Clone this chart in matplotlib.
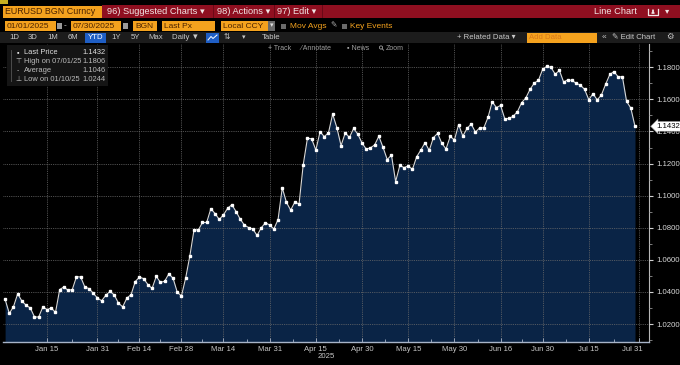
import matplotlib
matplotlib.use("Agg")
import matplotlib.pyplot as plt
import numpy as np
import pandas as pd
from matplotlib.patches import Rectangle, Circle
import matplotlib.transforms as mtransforms

# ---------------- data ----------------
dates = pd.bdate_range("2025-01-01", "2025-07-30")
jan = [1.0354, 1.0266, 1.0308, 1.0389, 1.0343, 1.0317, 1.0300, 1.0244, 1.0244, 1.0307,
       1.0290, 1.0300, 1.0272, 1.0415, 1.0431, 1.0410, 1.0415, 1.0495, 1.0493, 1.0430,
       1.0421, 1.0391, 1.0362]
feb = [1.0345, 1.0380, 1.0403, 1.0381, 1.0330, 1.0307, 1.0362, 1.0383, 1.0465, 1.0492,
       1.0483, 1.0446, 1.0422, 1.0497, 1.0459, 1.0467, 1.0513, 1.0485, 1.0398, 1.0375]
mar = [1.0487, 1.0625, 1.0789, 1.0785, 1.0833, 1.0833, 1.0919, 1.0888, 1.0852, 1.0880,
       1.0922, 1.0943, 1.0901, 1.0853, 1.0816, 1.0801, 1.0792, 1.0752, 1.0800, 1.0831,
       1.0817]
apr = [1.0792, 1.0851, 1.1049, 1.0958, 1.0910, 1.0960, 1.0948, 1.1194, 1.1358, 1.1354,
       1.1284, 1.1398, 1.1368, 1.1391, 1.1508, 1.1424, 1.1312, 1.1391, 1.1363, 1.1419,
       1.1383, 1.1328]
may = [1.1290, 1.1298, 1.1316, 1.1370, 1.1301, 1.1225, 1.1253, 1.1088, 1.1188, 1.1175,
       1.1185, 1.1164, 1.1242, 1.1284, 1.1330, 1.1282, 1.1362, 1.1388, 1.1326, 1.1291,
       1.1369, 1.1347]
jun = [1.1443, 1.1371, 1.1419, 1.1446, 1.1396, 1.1422, 1.1423, 1.1488, 1.1585, 1.1549,
       1.1562, 1.1478, 1.1481, 1.1495, 1.1523, 1.1579, 1.1609, 1.1662, 1.1701, 1.1718,
       1.1787]
jul = [1.1806, 1.1799, 1.1757, 1.1780, 1.1708, 1.1722, 1.1718, 1.1700, 1.1689, 1.1662,
       1.1598, 1.1635, 1.1597, 1.1627, 1.1694, 1.1755, 1.1773, 1.1740, 1.1741, 1.1587,
       1.1546, 1.1432]
prices = jan + feb + mar + apr + may + jun + jul

tick_dates = ["2025-01-15", "2025-01-31", "2025-02-14", "2025-02-28", "2025-03-14",
              "2025-03-31", "2025-04-15", "2025-04-30", "2025-05-15", "2025-05-30",
              "2025-06-16", "2025-06-30", "2025-07-15", "2025-07-31"]
tick_labels = ["Jan 15", "Jan 31", "Feb 14", "Feb 28", "Mar 14", "Mar 31", "Apr 15",
               "Apr 30", "May 15", "May 30", "Jun 16", "Jun 30", "Jul 15", "Jul 31"]
y_ticks = [1.02, 1.04, 1.06, 1.08, 1.10, 1.12, 1.14, 1.16, 1.18]

legend_labels = ["Last Price", "High on 07/01/25", "Average", "Low on 01/10/25"]
legend_values = ["1.1432", "1.1806", "1.1046", "1.0244"]
last_price = 1.1432

# ---------------- style ----------------
FONT = ["Liberation Sans", "DejaVu Sans"]
plt.rcParams["font.family"] = FONT

W, H = 680, 365
fig = plt.figure(figsize=(6.8, 3.65), dpi=100, facecolor="black")

# main axes in pixel layout
L, R, T, B = 3, 649, 44, 342
ax = fig.add_axes([L / W, (H - B) / H, (R - L) / W, (B - T) / H])
ax.set_facecolor("black")

x = np.arange(len(prices))
ymin, ymax = 1.0088, 1.1945
ax.fill_between(x, prices, ymin, color="#0a2446", zorder=1, linewidth=0)
ax.plot(x, prices, color="#d8d8d8", lw=0.8, zorder=4)
ax.plot(x, prices, ls="none", marker="s", ms=1.8, mfc="white", mec="white", zorder=5)

all_days = pd.bdate_range("2025-01-01", "2025-07-31")
tick_pos = [all_days.get_loc(pd.Timestamp(d)) for d in tick_dates]
ax.set_xlim(-0.5, (R - 5) / 4.2)
ax.set_ylim(ymin, ymax)

ax.set_xticks(tick_pos)
ax.set_xticklabels(tick_labels)
minor_x = [(a + b) / 2 for a, b in zip(tick_pos[:-1], tick_pos[1:])]
ax.set_xticks(minor_x, minor=True)
ax.tick_params(axis="x", which="major", direction="in", length=3, width=0.6,
               color="#a8b4c8", labelsize=5.6, labelcolor="#c8c8c8", pad=3)
ax.tick_params(axis="x", which="minor", direction="in", length=2, width=0.6,
               color="#a8b4c8")
lbls = ax.get_xticklabels()
off = mtransforms.ScaledTranslation(-7 / 100, 0, fig.dpi_scale_trans)
lbls[-1].set_transform(lbls[-1].get_transform() + off)

ax.yaxis.tick_right()
ax.set_yticks(y_ticks)
ax.set_yticklabels([f"{v:.4f}" for v in y_ticks])
ax.set_yticks(np.arange(1.01, 1.195, 0.02), minor=True)
ax.tick_params(axis="y", which="major", direction="out", length=3, width=0.8,
               color="#d0d0d0", labelsize=5.6, labelcolor="#d8d8d8", pad=2)
ax.tick_params(axis="y", which="minor", direction="out", length=2, width=0.6,
               color="#909090")

ax.grid(True, which="major", color="#6a6a6a", ls=(0, (1, 1.2)), lw=0.6)
ax.set_axisbelow(False)
for gl in ax.get_xgridlines() + ax.get_ygridlines():
    gl.set_zorder(2)

for s in ["left", "top"]:
    ax.spines[s].set_visible(False)
ax.spines["right"].set_color("#b8b8b8")
ax.spines["right"].set_linewidth(0.8)
ax.spines["bottom"].set_color("#a8b4c8")
ax.spines["bottom"].set_linewidth(1.0)

# last price tag
ax.annotate(f"{last_price:.4f}", xy=(1.0, last_price),
            xycoords=ax.get_yaxis_transform(),
            xytext=(5, 0), textcoords="offset points", ha="left", va="center",
            fontsize=5.6, color="black", annotation_clip=False,
            bbox=dict(boxstyle="larrow,pad=0.18", fc="white", ec="#888888", lw=0.4))

# ---------------- overlay (pixel coordinates) ----------------
ov = fig.add_axes([0, 0, 1, 1])
ov.set_xlim(0, W)
ov.set_ylim(H, 0)
ov.axis("off")
ov.patch.set_alpha(0)
ov.set_zorder(10)


def rect(x0, y0, x1, y1, color, **kw):
    ov.add_patch(Rectangle((x0, y0), x1 - x0, y1 - y0, facecolor=color,
                           edgecolor=kw.pop("ec", "none"), lw=kw.pop("lw", 0), **kw))


def txt(xp, yp, s, size, color, ha="left", va="center", **kw):
    ov.text(xp, yp, s, fontsize=size, color=color, ha=ha, va=va, family=FONT, **kw)


ORANGE = "#f4a21e"
RED = "#8f0f20"
OTXT = "#4a2200"
HDR = "#f2e6e6"

# "2025" under the x axis
txt(326, 357, "2025", 5.6, "#c8c8c8", ha="center")

# Row 0 (cut-off strip)
rect(0, 0, W, 5, "black")
rect(0, 0, 8, 4, "#c8b020")

# Row 1
rect(3, 6, 102, 18, ORANGE)
txt(5, 12, "EURUSD BGN Curncy", 6.4, OTXT)
rect(102, 5, W, 18, RED)
for xs in [213, 274, 322]:
    rect(xs, 5, xs + 1, 18, "#6a0816")
txt(107, 11.8, "96) Suggested Charts \u25be", 6.7, HDR)
txt(217, 11.8, "98) Actions \u25be", 6.7, HDR)
txt(277, 11.8, "97) Edit \u25be", 6.7, HDR)
txt(594, 11.8, "Line Chart", 6.7, HDR)
# share icon (tray + arrow)
ov.plot([648, 648, 658, 658], [9, 15, 15, 9], color=HDR, lw=0.9)
ov.annotate("", xy=(653, 7), xytext=(653, 13),
            arrowprops=dict(arrowstyle="-|>", color=HDR, lw=0.8, mutation_scale=4))
txt(667, 11.8, "\u25be", 6.0, HDR, ha="center")

# Row 2
for (x0, x1, s) in [(5, 56, "01/01/2025"), (71, 121, "07/30/2025"), (133, 157, "BGN"),
                    (162, 215, "Last Px"), (221, 268, "Local CCY")]:
    rect(x0, 21, x1, 31, ORANGE)
    txt(x0 + 2, 26, s, 6.0, OTXT)
for xc in [59, 125]:
    rect(xc - 2.5, 23, xc + 2.5, 29, "#9a9a9a")
txt(65, 26, "-", 6.0, "#d0d0d0", ha="center")
rect(268, 21, 275, 31, "#6a6a6a")
txt(271.5, 26, "\u25be", 5.0, "#e0e0e0", ha="center")
rect(281, 23.5, 286, 28.5, "#6a6a6a")
txt(290, 26, "Mov Avgs", 6.0, ORANGE)
txt(334, 26, "\u270e", 5.5, "#b0b0b0", ha="center")
rect(342, 23.5, 347, 28.5, "#6a6a6a")
txt(350, 26, "Key Events", 6.0, ORANGE)

# Row 3
rect(0, 32, W, 43, "#1c1c1c")
for xc, s in [(14, "1D"), (33, "3D"), (53, "1M"), (73, "6M"), (116, "1Y"), (135, "5Y"),
              (156, "Max")]:
    txt(xc, 37.5, s, 5.6, "#c8c8c8", ha="center")
rect(85, 32.5, 106, 42.5, "#1f5ec4")
txt(95.5, 37.5, "YTD", 5.6, "white", ha="center")
txt(172, 37.5, "Daily \u25bc", 5.6, "#c8c8c8")
rect(206, 32.5, 219, 42.5, "#1f5ec4")
ov.plot([208, 211, 213, 217], [40, 36.5, 38.5, 35], color="white", lw=0.7)
txt(227, 37.5, "\u21c5", 5.6, "#c8c8c8", ha="center")
txt(244, 37.5, "\u25be", 5.0, "#c8c8c8", ha="center")
txt(271, 37.5, "Table", 5.6, "#c8c8c8", ha="center")
txt(457, 37.5, "+ Related Data \u25be", 5.6, "#c8c8c8")
rect(527, 33, 597, 42.5, ORANGE)
txt(529, 37.5, "Add Data", 5.6, "#d8781a")
txt(604, 37.5, "\u00ab", 6.0, "#c8c8c8", ha="center")
txt(612, 37.5, "\u270e Edit Chart", 5.6, "#c8c8c8")
txt(670, 37.5, "\u2699", 6.0, "#c8c8c8", ha="center")

# Row 4
txt(268, 48, "+ Track", 5.0, "#a0a0a0")
txt(300, 48, "\u2044 Annotate", 5.0, "#a0a0a0")
txt(347, 48, "\u25aa News", 5.0, "#a0a0a0")
ov.add_patch(Circle((381, 47.5), 1.6, fill=False, ec="#a0a0a0", lw=0.6))
ov.plot([382.2, 383.6], [48.8, 50.2], color="#a0a0a0", lw=0.6)
txt(386, 48, "Zoom", 5.0, "#a0a0a0")

# Legend box
rect(7, 45, 108, 86, "#151515")
ov.plot([11, 11], [50, 81], color="#555555", lw=0.6)
icons = ["\u25aa", "\u22a4", "-", "\u22a5"]
for i, (lab, val) in enumerate(zip(legend_labels, legend_values)):
    yy = 53 + i * 8.7
    col = "#e0e0e0" if i == 0 else "#bcbcbc"
    txt(18, yy, icons[i], 5.0, col, ha="center")
    txt(24, yy, lab, 5.4, col)
    txt(106, yy, val, 5.4, col, ha="right")

fig.savefig("out.png", dpi=100, facecolor="black")
